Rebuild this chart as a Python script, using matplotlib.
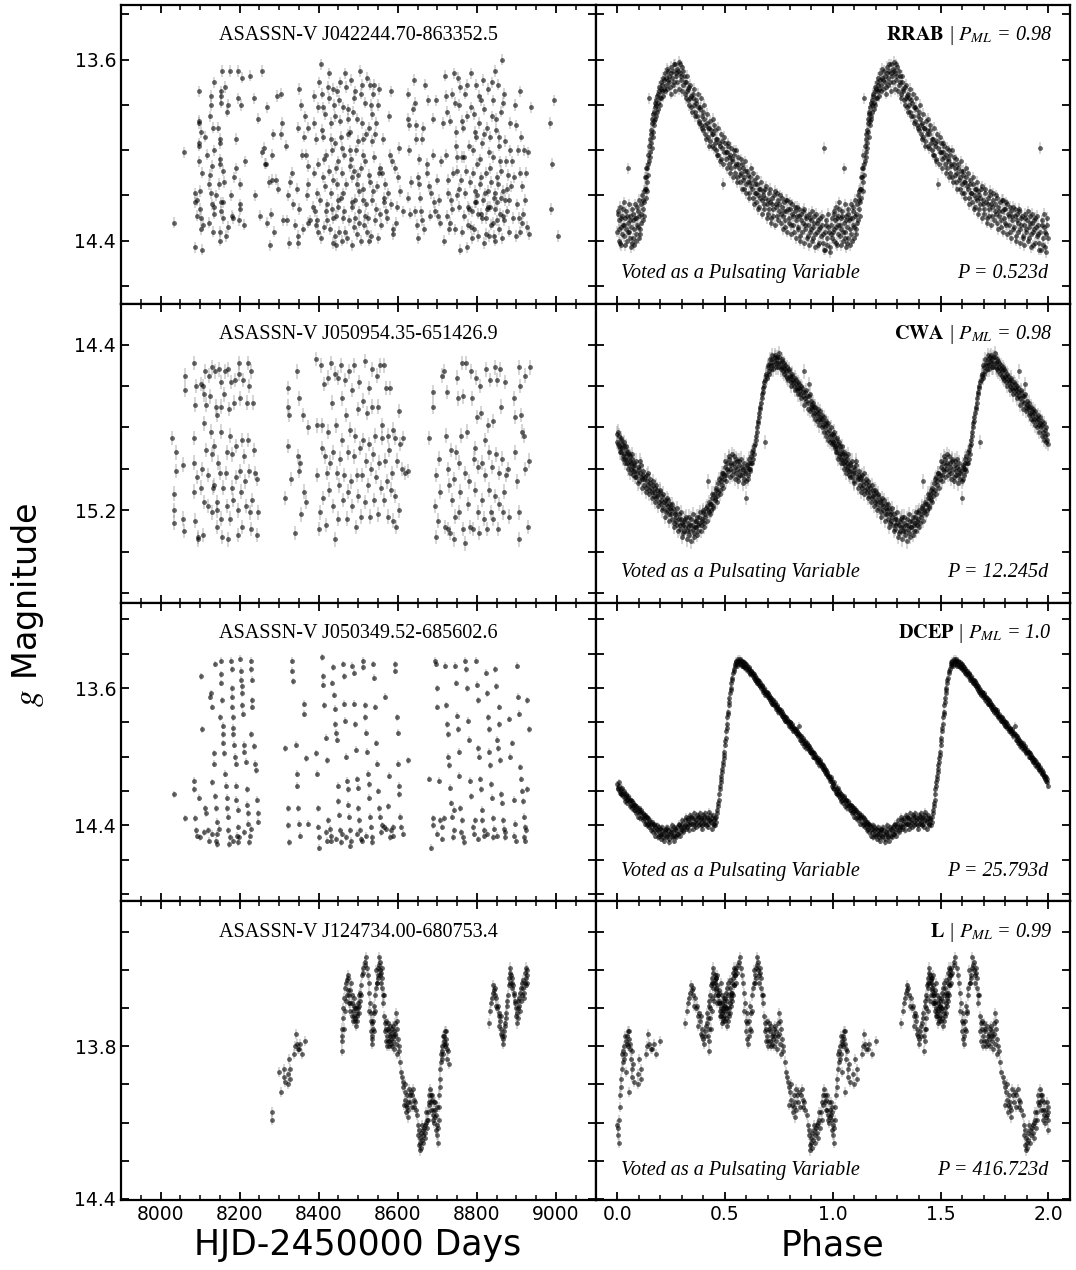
import numpy as np
import matplotlib
matplotlib.use("Agg")
import matplotlib.pyplot as plt
from matplotlib.ticker import MultipleLocator, FixedLocator, FixedFormatter

plt.rcParams['mathtext.fontset'] = 'stix'
plt.rcParams['font.family'] = ['DejaVu Sans']
SERIF = ['Liberation Serif', 'DejaVu Serif']

# ---------------- data ----------------
star_names = ["ASASSN-V J042244.70-863352.5", "ASASSN-V J050954.35-651426.9",
              "ASASSN-V J050349.52-685602.6", "ASASSN-V J124734.00-680753.4"]
star_classes = ["RRAB", "CWA", "DCEP", "L"]
star_pml = ["0.98", "0.98", "1.0", "0.99"]
star_periods = [0.523, 12.245, 25.793, 416.723]
star_mag_err = [0.025, 0.035, 0.02, 0.02]

# RRAB: light curve (HJD-2450000, g mag)
rrab_obs = [
(8035,14.32),(8059,14.01),(8097,13.74),(8097,13.87),(8097,13.88),(8096,13.97),(8096,13.98),(8096,14.05),
(8106,14.10),(8088,14.19),(8091,14.22),(8087,14.23),(8100,14.26),(8091,14.29),(8102,14.30),(8102,14.35),
(8087,14.43),(8105,14.44),(8113,13.94),(8128,13.76),(8128,13.80),(8136,13.70),(8133,13.90),(8136,14.00),
(8131,14.07),(8125,14.11),(8123,14.15),(8128,14.19),(8129,14.24),(8134,14.25),(8123,14.32),(8134,14.28),
(8156,13.65),(8154,13.74),(8153,13.76),(8153,13.79),(8171,13.80),(8167,13.83),(8150,13.95),(8150,13.97),
(8150,14.04),(8150,14.06),(8161,14.14),(8148,14.15),(8153,14.23),(8159,14.23),(8153,14.27),(8157,14.30),
(8151,14.36),(8151,14.40),(8171,14.34),(8179,14.20),(8180,14.29),(8184,14.30),(8175,13.65),(8195,13.65),
(8207,13.68),(8197,13.77),(8203,13.80),(8192,14.08),(8202,14.15),(8202,14.24),(8198,14.31),(8211,14.33),
(8227,13.67),(8237,13.77),(8257,13.65),(8247,13.86),(8257,14.01),(8266,14.06),(8265,14.06),(8274,14.14),
(8281,14.13),(8291,14.13),(8251,14.29),(8269,14.32),(8279,14.28),(8277,14.42),(8284,13.93),(8283,14.02),
(8294,13.76),(8304,13.75),(8308,13.88),(8304,13.93),(8310,14.31),(8321,14.31),(8325,14.41),(8322,14.20),
(8327,14.14),(8332,14.10),(8344,14.17),(8347,14.38),(8347,14.41),(8340,14.33),(8347,13.90),(8349,13.73),
(8351,14.26),(8357,14.02),(8367,14.02),(8364,13.94),(8374,13.90),(8365,13.85),(8372,14.07),(8372,14.32),
(8374,14.15),(8378,14.31),(8387,13.76),(8393,13.95),(8389,14.10),(8399,13.81),(8395,14.19),(8391,14.27),
(8395,14.31),(8398,14.36),(8406,13.62),(8409,13.75),(8412,13.81),(8412,13.94),(8414,14.04),(8416,14.16),
(8418,14.27),(8420,14.31),(8425,13.77),(8426,13.66),(8431,13.95),(8435,13.73),(8433,14.00),(8431,14.19),
(8437,14.30),(8437,14.41),(8441,13.85),(8443,14.08),(8446,14.15),(8448,14.22),(8443,14.42),(8450,14.25),
(8452,13.78),(8454,13.70),(8457,13.94),(8458,13.99),(8460,14.10),(8462,14.19),(8462,14.30),(8467,14.36),
(8468,13.72),(8473,13.82),(8475,13.86),(8479,13.92),(8479,14.00),(8482,14.04),(8485,14.12),(8485,14.25),
(8488,14.34),(8490,13.77),(8492,14.22),(8496,14.15),(8499,13.96),(8500,14.11),(8502,14.32),(8507,13.75),
(8509,13.71),(8510,13.88),(8513,14.02),(8513,14.22),(8517,14.29),(8519,13.93),(8522,14.36),(8526,14.11),
(8527,14.40),(8530,13.71),(8533,13.80),(8534,13.84),(8536,13.96),(8538,14.18),(8541,13.71),(8543,13.93),
(8544,14.26),(8551,13.80),(8553,14.10),(8555,14.28),(8560,14.10),(8564,14.21),(8566,14.23),(8570,14.27),
(8576,14.19),(8581,14.02),(8582,13.74),(8585,14.05),(8587,14.35),(8589,14.37),(8598,14.25),(8603,13.99),
(8601,14.12),(8612,14.27),(8625,13.75),(8627,13.86),(8629,13.89),(8629,14.00),(8627,14.21),(8634,14.14),
(8642,13.69),(8644,13.79),(8645,13.89),(8647,13.95),(8644,14.27),(8649,14.33),(8651,14.39),(8653,14.04),
(8654,14.15),(8657,14.21),(8659,14.27),(8661,14.31),(8665,13.90),(8669,13.71),(8673,14.06),(8675,14.10),
(8677,13.78),(8679,14.16),(8681,14.29),(8688,14.02),(8692,14.23),(8694,14.27),(8696,13.78),(8699,14.13),
(8705,14.22),(8708,14.32),(8715,13.88),(8719,13.67),(8721,13.76),(8722,14.02),(8724,14.29),(8726,14.19),
(8729,14.35),(8732,13.87),(8735,14.22),(8738,14.26),(8743,13.66),(8745,13.79),(8747,13.92),(8749,14.09),
(8750,14.03),(8752,13.68),(8754,13.80),(8754,14.17),(8756,14.25),(8758,14.44),(8763,13.87),(8763,14.03),
(8767,14.03),(8769,14.19),(8771,13.75),(8775,13.71),(8775,14.43),(8777,14.25),(8780,13.98),(8781,14.26),
(8784,14.34),(8786,13.81),(8788,14.39),(8790,14.10),(8792,13.84),(8794,14.18),(8796,14.23),(8799,13.71),
(8799,13.94),(8801,14.20),(8803,14.28),(8806,13.88),(8808,14.04),(8811,13.78),(8811,14.12),(8814,14.30),
(8816,13.69),(8818,13.93),(8820,14.19),(8823,14.37),(8825,13.90),(8826,14.26),(8829,14.25),(8831,14.01),
(8833,14.08),(8835,14.33),(8839,13.85),(8841,13.78),(8843,14.38),(8844,14.21),(8847,13.65),(8847,14.26),
(8849,13.91),(8851,14.12),(8852,14.31),(8854,13.71),(8857,13.98),(8858,14.05),(8860,14.21),(8862,13.83),
(8864,13.60),(8866,14.29),(8868,13.75),(8870,14.22),(8874,14.05),(8876,14.17),(8881,14.22),(8883,14.00),
(8887,14.16),(8889,14.05),(8896,13.80),(8900,13.89),(8902,14.24),(8904,14.00),(8906,14.30),(8908,13.74),
(8910,14.36),(8910,14.10),(8913,14.32),(8915,14.16),(8918,14.00),(8921,14.22),(8927,14.34),(8930,14.01),
(8936,13.81),(8985,13.88),(8987,14.26),(8989,14.06),(8995,13.78),(9006,14.38),
(8099,14.18),(8103,13.92),(8108,14.33),(8118,14.02),(8126,13.85),(8132,14.36),(8140,14.20),(8145,13.90),
(8158,14.09),(8163,13.72),(8166,14.38),(8186,14.12),(8190,13.95),(8200,14.26),(8214,14.05),(8240,14.20),
(8262,13.99),(8270,13.81),(8286,14.36),(8298,14.17),(8318,13.98),(8336,14.24),(8355,13.80),(8360,14.35),
(8370,14.20),(8385,14.25),(8388,13.88),(8392,14.33),(8397,14.06),(8401,13.70),(8403,14.22),(8405,14.39),
(8408,13.91),(8411,14.12),(8413,14.34),(8417,13.84),(8419,14.02),(8421,14.24),(8423,13.72),(8427,14.09),
(8429,14.35),(8432,13.88),(8434,14.26),(8436,14.13),(8439,13.80),(8440,14.38),(8442,13.97),(8444,14.29),
(8447,13.74),(8449,14.05),(8451,14.36),(8453,13.87),(8456,14.21),(8459,14.40),(8461,13.81),(8463,14.02),
(8465,14.27),(8466,13.66),(8469,14.15),(8471,14.39),(8474,13.93),(8476,14.31),(8478,14.07),(8481,13.69),
(8483,14.23),(8484,14.42),(8487,13.83),(8489,14.09),(8491,14.30),(8493,13.74),(8494,14.00),(8497,14.37),
(8498,13.86),(8501,14.18),(8503,14.27),(8505,13.65),(8506,14.08),(8508,14.40),(8511,13.95),(8512,14.17),
(8515,14.33),(8516,13.79),(8518,14.05),(8520,14.24),(8523,13.68),(8525,14.30),(8528,13.90),(8529,14.14),
(8531,14.38),(8535,14.22),(8537,13.75),(8540,14.03),(8542,14.31),(8545,13.88),(8547,14.16),(8549,14.39),
(8552,13.73),(8556,14.08),(8558,14.33),(8562,13.95),(8568,14.15),(8573,14.30),(8579,13.85),(8584,14.24),
(8592,14.08),(8596,14.32),(8606,14.18),(8632,14.28),(8638,13.82),(8650,14.12),(8660,13.95),(8667,14.35),
(8684,14.19),(8690,13.86),(8701,14.29),(8710,14.05),(8717,14.40),(8725,13.83),(8728,14.13),(8733,14.32),
(8736,13.75),(8740,14.10),(8744,14.35),(8748,13.98),(8751,14.20),(8757,13.72),(8760,14.13),(8762,14.36),
(8765,13.90),(8768,14.29),(8772,14.09),(8776,13.85),(8778,14.33),(8783,14.14),(8785,13.66),(8787,14.27),
(8789,14.00),(8793,14.35),(8795,13.92),(8798,14.23),(8800,14.06),(8802,14.38),(8805,13.76),(8807,14.15),
(8810,14.28),(8813,13.97),(8815,14.22),(8817,14.41),(8819,13.82),(8822,14.10),(8824,14.30),(8827,13.73),
(8828,14.18),(8830,14.38),(8832,13.94),(8834,14.25),(8836,14.14),(8838,13.70),(8840,14.32),(8842,14.03),
(8845,14.19),(8846,14.40),(8848,13.86),(8850,14.23),(8853,14.15),(8855,14.35),(8856,13.94),(8859,14.28),
(8861,14.09),(8863,14.39),(8865,13.79),(8867,14.18),(8869,14.31),(8872,13.96),(8875,14.27),(8878,14.11),
(8880,14.36),(8885,13.88),(8891,14.30),(8894,14.12),(8898,14.38),(8912,13.94),(8917,14.28),(8924,14.10),
(8933,14.37)]

# RRAB: phased light curve (phase, g mag), shown over two cycles
rrab_phased = [
(0.002,14.36),(0.005,14.28),(0.008,14.40),(0.011,14.31),(0.014,14.25),(0.017,14.34),(0.020,14.42),(0.023,14.29),
(0.026,14.33),(0.030,14.23),(0.033,14.38),(0.036,14.30),(0.040,14.35),(0.043,14.27),(0.046,14.40),(0.050,14.32),
(0.053,14.08),(0.056,14.36),(0.060,14.29),(0.063,14.43),(0.066,14.34),(0.070,14.26),(0.073,14.39),(0.076,14.31),
(0.080,14.42),(0.083,14.24),(0.086,14.37),(0.090,14.30),(0.093,14.33),(0.096,14.27),(0.100,14.39),(0.103,14.22),
(0.106,14.35),(0.110,14.28),(0.113,14.32),(0.116,14.20),(0.120,14.26),(0.123,14.18),(0.126,14.23),(0.130,14.12),
(0.133,14.17),(0.136,14.08),(0.139,14.14),(0.142,14.02),(0.145,14.06),(0.147,13.77),(0.150,13.98),(0.153,14.03),
(0.156,13.93),(0.159,13.97),(0.162,13.88),(0.165,13.92),(0.168,13.84),(0.171,13.89),(0.174,13.81),(0.177,13.86),
(0.180,13.78),(0.184,13.83),(0.188,13.75),(0.192,13.79),(0.196,13.72),(0.200,13.77),(0.204,13.70),(0.208,13.74),
(0.212,13.68),(0.216,13.73),(0.220,13.66),(0.225,13.71),(0.230,13.64),(0.235,13.69),(0.240,13.67),(0.245,13.72),
(0.250,13.63),(0.255,13.68),(0.260,13.65),(0.265,13.70),(0.270,13.62),(0.275,13.67),(0.280,13.64),(0.285,13.61),
(0.290,13.66),(0.295,13.69),(0.300,13.63),(0.305,13.71),(0.310,13.67),(0.315,13.75),(0.320,13.70),(0.325,13.74),
(0.330,13.78),(0.335,13.72),(0.340,13.77),(0.345,13.81),(0.350,13.75),(0.355,13.80),(0.360,13.83),(0.365,13.78),
(0.370,13.85),(0.375,13.81),(0.380,13.87),(0.385,13.82),(0.390,13.89),(0.395,13.85),(0.400,13.91),(0.405,13.86),
(0.410,13.93),(0.415,13.88),(0.420,13.94),(0.425,13.90),(0.430,13.96),(0.435,13.91),(0.440,13.98),(0.445,13.93),
(0.450,13.89),(0.455,13.97),(0.460,14.00),(0.465,13.95),(0.470,14.02),(0.475,13.98),(0.480,14.04),(0.485,13.96),
(0.490,14.15),(0.495,14.01),(0.500,13.97),(0.505,14.04),(0.510,14.01),(0.515,13.98),(0.520,14.06),(0.525,14.02),
(0.530,14.08),(0.535,14.04),(0.540,14.00),(0.545,14.10),(0.550,14.06),(0.555,14.12),(0.560,14.03),(0.565,14.08),
(0.570,14.14),(0.575,14.10),(0.580,14.06),(0.585,14.13),(0.590,14.17),(0.595,14.09),(0.600,14.15),(0.605,14.11),
(0.610,14.19),(0.615,14.14),(0.620,14.08),(0.625,14.17),(0.630,14.21),(0.635,14.13),(0.640,14.19),(0.645,14.23),
(0.650,14.15),(0.655,14.20),(0.660,14.25),(0.665,14.17),(0.670,14.22),(0.675,14.18),(0.680,14.26),(0.685,14.21),
(0.690,14.16),(0.695,14.24),(0.700,14.28),(0.705,14.19),(0.710,14.23),(0.715,14.30),(0.720,14.21),(0.725,14.26),
(0.730,14.18),(0.735,14.24),(0.740,14.29),(0.745,14.22),(0.750,14.27),(0.755,14.20),(0.760,14.32),(0.765,14.25),
(0.770,14.29),(0.775,14.23),(0.780,14.34),(0.785,14.27),(0.790,14.22),(0.795,14.30),(0.800,14.26),(0.805,14.33),
(0.810,14.24),(0.815,14.29),(0.820,14.36),(0.825,14.27),(0.830,14.31),(0.835,14.25),(0.840,14.34),(0.845,14.29),
(0.850,14.38),(0.855,14.28),(0.860,14.32),(0.865,14.26),(0.870,14.35),(0.875,14.30),(0.880,14.39),(0.885,14.33),
(0.890,14.28),(0.895,14.36),(0.900,14.31),(0.905,14.40),(0.910,14.34),(0.915,14.29),(0.920,14.37),(0.925,14.32),
(0.930,14.42),(0.935,14.35),(0.940,14.30),(0.945,14.38),(0.950,14.33),(0.955,14.41),(0.960,13.99),(0.963,14.36),
(0.966,14.44),(0.970,14.31),(0.975,14.39),(0.980,14.34),(0.985,14.43),(0.990,14.37),(0.995,14.30),
(0.004,14.27),(0.007,14.35),(0.013,14.41),(0.019,14.30),(0.024,14.37),(0.028,14.26),(0.034,14.33),(0.039,14.42),
(0.045,14.29),(0.049,14.36),(0.055,14.24),(0.058,14.39),(0.062,14.31),(0.068,14.41),(0.072,14.28),(0.078,14.35),
(0.082,14.30),(0.088,14.40),(0.092,14.25),(0.098,14.34),(0.102,14.29),(0.108,14.37),(0.112,14.24),(0.118,14.31),
(0.121,14.22),(0.125,14.29),(0.128,14.17),(0.132,14.21),(0.135,14.12),(0.138,14.18),(0.141,14.08),(0.144,14.11),
(0.149,14.05),(0.152,13.95),(0.155,14.01),(0.158,13.91),(0.161,13.99),(0.164,13.86),(0.167,13.94),(0.170,13.83),
(0.173,13.87),(0.176,13.79),(0.179,13.85),(0.182,13.80),(0.186,13.76),(0.190,13.82),(0.194,13.74),(0.198,13.80),
(0.202,13.73),(0.206,13.77),(0.210,13.71),(0.214,13.76),(0.218,13.69),(0.223,13.74),(0.228,13.68),(0.232,13.73),
(0.238,13.65),(0.243,13.70),(0.248,13.75),(0.252,13.66),(0.258,13.71),(0.262,13.62),(0.268,13.74),(0.272,13.66),
(0.278,13.70),(0.283,13.65),(0.288,13.73),(0.292,13.62),(0.298,13.67),(0.303,13.74),(0.308,13.65),(0.313,13.70),
(0.318,13.77),(0.323,13.67),(0.328,13.73),(0.333,13.80),(0.338,13.71),(0.343,13.76),(0.348,13.83),(0.353,13.77),
(0.358,13.73),(0.363,13.85),(0.368,13.79),(0.373,13.75),(0.378,13.88),(0.383,13.81),(0.388,13.77),(0.393,13.90),
(0.398,13.83),(0.403,13.80),(0.408,13.89),(0.413,13.95),(0.418,13.84),(0.423,13.90),(0.428,13.98),(0.433,13.87),
(0.438,13.93),(0.443,13.86),(0.448,13.99),(0.453,13.91),(0.458,13.95),(0.463,14.02),(0.468,13.90),(0.473,13.97),
(0.478,14.05),(0.483,13.93),(0.488,13.99),(0.493,14.06),(0.498,13.94),(0.503,14.01),(0.508,14.08),(0.513,13.97),
(0.518,14.03),(0.523,14.10),(0.528,13.99),(0.533,14.05),(0.538,14.12),(0.543,14.02),(0.548,14.07),(0.553,14.00),
(0.558,14.14),(0.563,14.06),(0.568,14.11),(0.573,14.04),(0.578,14.17),(0.583,14.08),(0.588,14.12),(0.593,14.05),
(0.598,14.19),(0.603,14.09),(0.608,14.14),(0.613,14.21),(0.618,14.12),(0.623,14.16),(0.628,14.10),(0.633,14.24),
(0.638,14.15),(0.643,14.19),(0.648,14.12),(0.653,14.26),(0.658,14.17),(0.663,14.21),(0.668,14.14),(0.673,14.28),
(0.678,14.20),(0.683,14.24),(0.688,14.17),(0.693,14.30),(0.698,14.22),(0.703,14.26),(0.708,14.17),(0.713,14.32),
(0.718,14.24),(0.723,14.29),(0.728,14.20),(0.733,14.33),(0.738,14.25),(0.743,14.19),(0.748,14.31),(0.753,14.24),
(0.758,14.28),(0.763,14.21),(0.768,14.35),(0.773,14.27),(0.778,14.31),(0.783,14.22),(0.788,14.36),(0.793,14.26),
(0.798,14.32),(0.803,14.23),(0.808,14.37),(0.813,14.28),(0.818,14.33),(0.823,14.25),(0.828,14.39),(0.833,14.29),
(0.838,14.35),(0.843,14.26),(0.848,14.40),(0.853,14.31),(0.858,14.36),(0.863,14.27),(0.868,14.41),(0.873,14.33),
(0.878,14.29),(0.883,14.38),(0.888,14.42),(0.893,14.30),(0.898,14.35),(0.903,14.27),(0.908,14.39),(0.913,14.32),
(0.918,14.43),(0.923,14.28),(0.928,14.36),(0.933,14.31),(0.938,14.41),(0.943,14.34),(0.948,14.29),(0.953,14.37),
(0.958,14.44),(0.968,14.33),(0.973,14.42),(0.978,14.28),(0.983,14.36),(0.988,14.45),(0.993,14.33),(0.998,14.39)]

# CWA: light curve
cwa_obs = [
(8028,14.85),(8035,15.12),(8035,15.20),(8035,15.26),(8038,14.92),(8038,15.01),(8057,14.98),(8057,15.24),
(8059,15.30),(8062,14.62),(8063,14.55),(8085,14.49),(8085,14.85),(8085,14.97),(8085,15.11),(8087,14.69),
(8087,15.25),(8089,14.60),(8091,15.04),(8094,15.33),(8095,15.34),(8102,14.59),(8102,15.09),(8105,15.00),
(8108,14.60),(8108,15.32),(8111,14.64),(8111,14.78),(8111,15.16),(8112,14.53),(8114,14.69),(8116,14.91),
(8119,15.03),(8119,15.18),(8123,14.55),(8125,14.65),(8127,14.82),(8129,14.93),(8129,15.21),(8131,14.51),
(8132,15.09),(8136,14.89),(8136,15.08),(8138,14.53),(8139,14.70),(8142,14.74),(8142,15.16),(8144,15.20),
(8144,15.28),(8146,14.97),(8149,14.52),(8150,15.02),(8153,14.58),(8153,14.82),(8154,14.70),(8154,15.24),
(8156,15.33),(8159,15.09),(8161,14.64),(8163,14.53),(8165,15.02),(8167,14.92),(8167,15.18),(8170,15.34),
(8171,14.52),(8173,14.71),(8176,14.84),(8176,15.24),(8178,14.58),(8180,15.09),(8181,14.93),(8184,15.15),
(8187,14.68),(8188,14.57),(8190,14.89),(8192,15.04),(8195,15.32),(8197,15.20),(8198,14.49),(8198,14.54),
(8201,14.66),(8201,15.01),(8203,15.11),(8205,14.86),(8207,15.28),(8209,14.57),(8212,14.94),(8214,15.06),
(8215,15.18),(8218,14.68),(8220,14.49),(8222,14.86),(8224,14.60),(8224,15.01),(8226,15.21),(8229,15.29),
(8230,14.53),(8232,15.15),(8235,14.68),(8237,14.91),(8239,15.02),(8243,15.05),(8246,15.21),(8243,15.32),
(8315,15.14),(8322,14.61),(8322,14.70),(8323,14.89),(8325,14.74),(8330,15.05),(8340,15.31),(8344,14.53),
(8347,14.94),(8349,15.01),(8350,14.66),(8353,14.97),(8354,15.22),(8361,14.74),(8364,15.11),(8367,15.16),
(8372,14.80),(8393,14.47),(8395,14.79),(8395,15.03),(8401,15.29),(8403,15.21),(8406,14.50),(8408,14.79),
(8409,14.90),(8412,15.14),(8414,14.59),(8416,14.94),(8418,15.27),(8420,15.02),(8423,14.56),(8424,14.82),
(8426,15.10),(8429,14.97),(8431,14.49),(8433,14.68),(8435,15.18),(8437,14.92),(8440,15.34),(8441,14.54),
(8443,14.79),(8446,15.02),(8448,15.24),(8450,14.56),(8451,15.08),(8454,14.95),(8457,14.50),(8458,14.66),
(8460,14.86),(8462,15.15),(8465,15.03),(8467,14.57),(8468,14.74),(8471,15.24),(8473,14.92),(8475,15.11),
(8477,14.53),(8479,14.81),(8482,15.06),(8484,15.18),(8485,14.62),(8488,14.94),(8490,14.50),(8492,14.84),
(8494,15.28),(8496,15.03),(8499,15.13),(8500,14.71),(8502,14.58),(8505,14.90),(8507,15.23),(8509,15.03),
(8511,14.67),(8513,14.86),(8516,14.48),(8517,15.16),(8519,14.96),(8522,14.73),(8524,15.08),(8526,14.61),
(8527,14.88),(8530,15.23),(8533,15.00),(8534,14.52),(8536,14.70),(8538,14.93),(8541,15.15),(8543,14.84),
(8544,15.04),(8547,14.55),(8549,15.22),(8551,14.70),(8553,14.97),(8555,14.50),(8558,15.09),(8560,14.85),
(8561,14.79),(8564,15.15),(8566,14.50),(8568,14.96),(8570,14.61),(8572,15.06),(8575,14.84),(8576,15.23),
(8578,14.91),(8581,14.61),(8583,15.10),(8585,15.02),(8587,15.25),(8589,14.81),(8592,15.13),(8593,14.85),
(8595,15.28),(8598,14.96),(8602,14.72),(8603,15.20),(8606,14.88),(8610,15.00),(8612,14.85),(8617,15.02),
(8625,15.01),
(8679,14.85),(8690,14.63),(8690,14.70),(8693,15.18),(8696,15.03),(8696,15.33),(8701,15.25),(8705,14.95),
(8707,15.11),(8711,14.55),(8716,14.53),(8720,15.28),(8722,14.84),(8724,14.63),(8727,15.00),(8728,15.29),
(8730,15.08),(8733,15.31),(8735,14.91),(8738,15.15),(8741,15.05),(8743,15.34),(8745,15.23),(8747,14.92),
(8749,14.56),(8752,14.66),(8754,14.97),(8755,15.21),(8758,15.11),(8760,14.84),(8762,14.49),(8764,14.65),
(8766,15.29),(8769,15.02),(8770,15.36),(8772,14.49),(8775,14.82),(8777,15.17),(8781,15.06),(8783,15.28),
(8786,14.53),(8787,14.66),(8789,15.29),(8792,14.95),(8794,15.10),(8796,14.90),(8797,14.56),(8800,14.75),
(8803,15.21),(8804,14.99),(8806,15.31),(8808,14.60),(8811,14.73),(8813,14.97),(8814,15.15),(8817,15.24),
(8820,14.86),(8821,15.03),(8823,14.52),(8825,15.29),(8828,14.79),(8830,15.10),(8831,14.92),(8834,14.57),
(8836,15.21),(8838,14.99),(8840,15.24),(8842,14.77),(8845,15.13),(8846,14.51),(8848,14.93),(8851,14.57),
(8853,15.29),(8855,15.02),(8857,15.17),(8859,14.52),(8862,14.70),(8863,14.95),(8865,15.21),(8868,15.11),
(8872,14.58),(8873,15.03),(8878,15.00),(8882,15.23),(8895,14.66),(8897,14.92),(8897,14.75),(8901,15.06),
(8906,15.21),(8906,15.34),(8907,14.51),(8910,14.60),(8912,14.74),(8914,14.82),(8918,14.84),(8921,14.55),
(8922,15.00),(8929,15.28),(8932,14.96),(8935,14.51)]

# CWA: phased light curve
cwa_phased = [
(0.000,14.83),(0.004,14.88),(0.008,14.84),(0.012,14.90),(0.016,14.86),(0.020,14.92),(0.024,14.88),(0.028,14.94),
(0.032,14.89),(0.036,14.95),(0.040,14.91),(0.044,14.93),(0.048,14.97),(0.052,14.92),(0.056,14.98),(0.060,14.94),
(0.064,15.00),(0.068,14.95),(0.072,14.99),(0.076,15.03),(0.080,14.97),(0.085,15.01),(0.090,15.04),(0.095,14.99),
(0.100,15.06),(0.105,15.02),(0.110,14.98),(0.115,15.05),(0.120,15.03),(0.125,15.08),(0.130,15.04),(0.135,15.09),
(0.140,15.06),(0.145,15.02),(0.150,15.10),(0.155,15.07),(0.160,15.11),(0.165,15.06),(0.170,15.13),(0.175,15.09),
(0.180,15.14),(0.185,15.10),(0.190,15.12),(0.195,15.16),(0.200,15.11),(0.205,15.17),(0.210,15.13),(0.215,15.19),
(0.220,15.15),(0.225,15.21),(0.230,15.14),(0.235,15.18),(0.240,15.22),(0.245,15.17),(0.250,15.20),(0.255,15.24),
(0.260,15.19),(0.265,15.26),(0.270,15.21),(0.275,15.23),(0.280,15.27),(0.285,15.22),(0.290,15.29),(0.295,15.24),
(0.300,15.26),(0.305,15.31),(0.310,15.25),(0.315,15.28),(0.320,15.23),(0.325,15.30),(0.330,15.26),(0.335,15.32),
(0.340,15.27),(0.345,15.24),(0.350,15.29),(0.355,15.31),(0.360,15.25),(0.365,15.28),(0.370,15.23),(0.375,15.30),
(0.380,15.26),(0.385,15.21),(0.390,15.27),(0.395,15.24),(0.400,15.20),(0.405,15.26),(0.410,15.22),(0.415,15.18),
(0.420,15.06),(0.425,15.21),(0.430,15.17),(0.435,15.20),(0.440,15.14),(0.445,15.18),(0.450,15.12),(0.455,15.15),
(0.460,15.09),(0.465,15.13),(0.470,15.07),(0.475,15.10),(0.480,15.04),(0.485,15.08),(0.490,15.02),(0.495,15.05),
(0.500,14.99),(0.505,15.03),(0.510,14.97),(0.515,15.01),(0.520,14.95),(0.525,15.00),(0.530,14.97),(0.535,15.03),
(0.540,14.94),(0.545,14.99),(0.550,15.02),(0.555,14.96),(0.560,15.04),(0.565,14.98),(0.570,15.01),(0.575,14.95),
(0.580,15.03),(0.585,15.00),(0.590,15.05),(0.595,15.01),(0.600,15.14),(0.603,14.98),(0.607,15.03),(0.611,14.97),
(0.615,15.00),(0.620,14.94),(0.625,14.97),(0.630,14.91),(0.635,14.93),(0.640,14.88),(0.645,14.84),(0.650,14.80),
(0.655,14.77),(0.660,14.73),(0.665,14.70),(0.670,14.66),(0.675,14.63),(0.680,14.60),(0.685,14.87),(0.688,14.57),
(0.692,14.54),(0.696,14.56),(0.700,14.51),(0.705,14.53),(0.710,14.49),(0.715,14.52),(0.720,14.47),(0.725,14.50),
(0.730,14.46),(0.735,14.49),(0.740,14.47),(0.745,14.51),(0.750,14.46),(0.755,14.49),(0.760,14.52),(0.765,14.48),
(0.770,14.51),(0.775,14.54),(0.780,14.50),(0.785,14.53),(0.790,14.56),(0.795,14.52),(0.800,14.55),(0.805,14.58),
(0.810,14.54),(0.815,14.57),(0.820,14.60),(0.825,14.56),(0.830,14.59),(0.835,14.62),(0.840,14.58),(0.845,14.61),
(0.850,14.64),(0.855,14.60),(0.860,14.63),(0.865,14.53),(0.870,14.66),(0.875,14.62),(0.880,14.65),(0.885,14.68),
(0.890,14.59),(0.893,14.64),(0.897,14.70),(0.900,14.67),(0.905,14.71),(0.910,14.68),(0.915,14.73),(0.920,14.70),
(0.925,14.74),(0.930,14.71),(0.935,14.76),(0.940,14.72),(0.945,14.77),(0.950,14.74),(0.955,14.79),(0.960,14.75),
(0.965,14.80),(0.970,14.77),(0.975,14.82),(0.980,14.78),(0.985,14.84),(0.990,14.80),(0.995,14.86),
(0.002,14.87),(0.006,14.82),(0.010,14.89),(0.014,14.92),(0.018,14.85),(0.022,14.90),(0.026,14.95),(0.030,14.87),
(0.034,14.93),(0.038,14.97),(0.042,14.89),(0.046,14.95),(0.050,15.00),(0.054,14.93),(0.058,14.96),(0.062,15.02),
(0.066,14.97),(0.070,14.93),(0.074,15.01),(0.078,14.98),(0.082,15.04),(0.087,14.96),(0.092,15.02),(0.097,15.07),
(0.102,15.00),(0.107,14.96),(0.112,15.04),(0.117,15.09),(0.122,15.01),(0.127,15.05),(0.132,15.11),(0.137,15.03),
(0.142,15.08),(0.147,15.12),(0.152,15.05),(0.157,15.09),(0.162,15.14),(0.167,15.08),(0.172,15.11),(0.177,15.16),
(0.182,15.08),(0.187,15.13),(0.192,15.18),(0.197,15.10),(0.202,15.15),(0.207,15.20),(0.212,15.12),(0.217,15.16),
(0.222,15.23),(0.227,15.17),(0.232,15.20),(0.237,15.15),(0.242,15.25),(0.247,15.19),(0.252,15.22),(0.257,15.17),
(0.262,15.28),(0.267,15.22),(0.272,15.25),(0.277,15.19),(0.282,15.30),(0.287,15.24),(0.292,15.27),(0.297,15.21),
(0.302,15.33),(0.307,15.27),(0.312,15.30),(0.317,15.24),(0.322,15.34),(0.327,15.28),(0.332,15.23),(0.337,15.30),
(0.342,15.35),(0.347,15.27),(0.352,15.22),(0.357,15.33),(0.362,15.28),(0.367,15.25),(0.372,15.32),(0.377,15.27),
(0.382,15.23),(0.387,15.30),(0.392,15.25),(0.397,15.21),(0.402,15.28),(0.407,15.23),(0.412,15.19),(0.417,15.25),
(0.422,15.20),(0.427,15.16),(0.432,15.22),(0.437,15.17),(0.442,15.12),(0.447,15.19),(0.452,15.14),(0.457,15.10),
(0.462,15.16),(0.467,15.11),(0.472,15.05),(0.477,15.12),(0.482,15.06),(0.487,15.02),(0.492,15.09),(0.497,15.03),
(0.502,14.96),(0.507,15.06),(0.512,15.00),(0.517,14.94),(0.522,15.04),(0.527,14.98),(0.532,14.93),(0.537,15.01),
(0.542,14.97),(0.547,15.05),(0.552,14.95),(0.557,15.00),(0.562,15.06),(0.567,14.96),(0.572,15.03),(0.577,14.99),
(0.582,15.07),(0.587,14.97),(0.592,15.02),(0.597,15.06),(0.602,14.99),(0.606,15.05),(0.610,15.00),(0.614,14.95),
(0.618,15.01),(0.622,14.97),(0.627,14.92),(0.632,14.95),(0.637,14.89),(0.642,14.86),(0.647,14.82),(0.652,14.78),
(0.657,14.75),(0.662,14.71),(0.667,14.68),(0.672,14.64),(0.677,14.61),(0.683,14.58),(0.690,14.55),(0.698,14.50),
(0.703,14.54),(0.708,14.47),(0.713,14.50),(0.718,14.45),(0.723,14.52),(0.728,14.48),(0.733,14.45),(0.738,14.51),
(0.743,14.46),(0.748,14.49),(0.753,14.44),(0.758,14.51),(0.763,14.47),(0.768,14.53),(0.773,14.49),(0.778,14.52),
(0.783,14.55),(0.788,14.51),(0.793,14.57),(0.798,14.53),(0.803,14.56),(0.808,14.60),(0.813,14.55),(0.818,14.58),
(0.823,14.62),(0.828,14.57),(0.833,14.61),(0.838,14.64),(0.843,14.59),(0.848,14.62),(0.853,14.66),(0.858,14.61),
(0.863,14.65),(0.868,14.69),(0.873,14.63),(0.878,14.67),(0.883,14.71),(0.888,14.65),(0.895,14.72),(0.902,14.69),
(0.908,14.74),(0.912,14.70),(0.918,14.76),(0.922,14.72),(0.928,14.77),(0.932,14.73),(0.938,14.79),(0.942,14.75),
(0.948,14.80),(0.952,14.76),(0.958,14.82),(0.962,14.78),(0.968,14.84),(0.972,14.79),(0.978,14.86),(0.982,14.81),
(0.988,14.87),(0.992,14.83),(0.997,14.88)]

# DCEP: light curve
dcep_obs = [
(8035,14.22),(8063,14.36),(8085,14.14),(8085,14.19),(8087,14.36),(8089,14.43),(8091,14.46),(8097,14.24),
(8102,13.53),(8105,13.84),(8112,14.30),(8114,14.33),(8121,14.43),(8122,14.49),(8125,13.65),(8127,13.63),
(8129,13.71),(8129,14.15),(8134,14.04),(8136,13.98),(8138,13.46),(8138,14.23),(8139,14.30),(8142,14.38),
(8143,14.45),(8144,14.51),(8150,13.77),(8153,13.44),(8153,13.52),(8154,13.57),(8156,13.67),(8159,13.82),
(8159,13.87),(8159,13.92),(8161,13.98),(8163,14.10),(8165,14.17),(8167,14.24),(8167,14.30),(8170,14.35),
(8171,14.43),(8173,14.51),(8178,13.44),(8180,13.49),(8180,13.60),(8180,13.65),(8181,13.71),(8184,13.77),
(8184,13.83),(8184,13.87),(8187,13.93),(8188,14.00),(8190,14.04),(8192,14.17),(8192,14.25),(8195,14.31),
(8197,14.41),(8198,14.47),(8201,13.43),(8203,13.50),(8203,13.55),(8205,13.63),(8205,13.59),(8207,13.70),
(8209,13.75),(8212,13.93),(8212,13.97),(8215,14.03),(8218,14.19),(8218,14.28),(8220,14.33),(8222,14.39),
(8224,14.50),(8229,13.44),(8230,13.49),(8232,13.55),(8232,13.67),(8232,13.71),(8230,13.87),(8237,13.94),
(8239,14.04),(8241,14.08),(8243,14.25),(8246,14.33),(8246,14.38),
(8100,14.47),(8110,14.44),(8131,14.45),(8140,14.49),(8148,14.42),(8175,14.47),(8182,14.49),(8194,14.46),
(8196,14.50),(8210,14.44),(8226,14.46),(8228,14.42),
(8316,13.95),(8322,14.30),(8323,14.40),(8325,14.50),(8333,13.44),(8333,13.50),(8336,13.56),(8342,13.93),
(8344,14.10),(8344,14.17),(8347,14.30),(8350,14.39),(8353,14.46),(8364,13.69),(8364,13.75),(8367,14.01),
(8374,14.39),(8394,13.98),(8395,14.10),(8397,14.30),(8399,14.41),(8401,14.53),(8409,13.42),(8412,13.53),
(8412,13.58),(8414,13.70),(8418,13.89),(8420,14.02),(8424,14.37),(8428,14.42),(8430,14.49),(8433,13.57),
(8437,13.48),(8438,13.64),(8440,13.72),(8441,13.81),(8443,13.86),(8446,13.90),(8448,14.17),(8450,14.26),
(8451,14.34),(8454,14.43),(8457,14.50),(8462,13.46),(8465,13.53),(8465,13.69),(8467,13.79),(8468,14.00),
(8471,14.14),(8473,14.19),(8475,14.28),(8477,14.35),(8479,14.43),(8482,14.49),(8485,13.47),(8488,13.51),
(8490,13.69),(8492,13.81),(8494,13.96),(8496,14.13),(8499,14.18),(8500,14.30),(8502,14.37),(8505,14.43),
(8507,14.48),(8511,13.44),(8513,13.48),(8516,13.70),(8517,13.77),(8519,13.86),(8522,13.97),(8524,14.10),
(8526,14.16),(8527,14.24),(8530,14.35),(8533,14.41),(8534,14.47),(8538,13.46),(8541,13.54),(8543,13.71),
(8544,13.92),(8547,14.04),(8551,14.20),(8553,14.30),(8555,14.35),(8560,14.40),(8564,14.41),(8568,13.65),
(8575,14.29),(8578,14.11),(8583,14.43),(8587,14.41),(8589,14.46),(8592,13.46),(8593,13.50),(8598,13.77),
(8600,13.86),(8600,14.04),(8602,14.17),(8603,14.22),(8606,14.35),(8608,14.41),(8612,14.45),(8625,14.02),
(8400,14.47),(8419,14.44),(8422,14.49),(8432,14.46),(8444,14.48),(8460,14.45),(8470,14.47),(8480,14.52),
(8497,14.45),(8510,14.49),(8520,14.46),(8535,14.50),(8557,14.44),(8570,14.42),(8580,14.47),
(8679,14.13),(8684,14.53),(8690,14.36),(8690,14.40),(8695,13.44),(8696,13.46),(8698,13.60),(8699,13.71),
(8705,14.14),(8707,14.37),(8711,14.41),(8716,14.36),(8720,13.47),(8722,13.70),(8724,13.81),(8727,13.87),
(8728,14.00),(8730,14.05),(8733,14.18),(8735,14.27),(8737,14.35),(8741,14.43),(8743,14.31),(8745,13.47),
(8747,13.57),(8749,13.76),(8752,13.84),(8754,13.97),(8755,14.11),(8758,14.30),(8762,14.37),(8766,14.47),
(8770,13.44),(8772,13.49),(8775,13.60),(8777,13.79),(8779,13.90),(8783,14.14),(8786,14.23),(8789,14.41),
(8794,14.37),(8797,13.44),(8800,13.58),(8803,13.67),(8804,13.95),(8806,14.00),(8808,14.13),(8811,14.19),
(8813,14.31),(8814,14.37),(8817,14.46),(8823,13.51),(8825,13.63),(8828,13.77),(8830,13.84),(8831,13.97),
(8834,14.05),(8836,14.16),(8838,14.24),(8840,14.36),(8842,14.47),(8846,13.49),(8848,13.59),(8851,13.90),
(8853,13.95),(8857,13.71),(8857,13.81),(8859,14.02),(8862,14.22),(8863,14.27),(8865,14.37),(8868,14.42),
(8872,14.47),(8880,13.78),(8884,14.00),(8889,13.92),(8893,14.25),(8897,14.39),(8899,14.49),(8901,13.47),
(8904,13.65),(8906,13.75),(8910,14.06),(8912,14.13),(8914,14.20),(8916,14.26),(8918,14.35),(8921,14.41),
(8922,14.49),(8927,13.67),(8927,14.19),(8932,13.84),
(8700,14.45),(8713,14.48),(8739,14.47),(8760,14.44),(8768,14.50),(8792,14.45),(8802,14.48),(8819,14.43),
(8826,14.45),(8844,14.42),(8850,14.46),(8870,14.44),(8895,14.46),(8920,14.47),(8924,14.43)]

# DCEP: phased light curve
dcep_phased = [
(0.000,14.16),(0.005,14.19),(0.010,14.17),(0.015,14.21),(0.020,14.19),(0.025,14.22),(0.030,14.20),(0.035,14.24),
(0.040,14.22),(0.045,14.25),(0.050,14.23),(0.055,14.26),(0.060,14.25),(0.065,14.28),(0.070,14.26),(0.075,14.29),
(0.080,14.28),(0.085,14.31),(0.090,14.29),(0.095,14.32),(0.100,14.30),(0.105,14.33),(0.110,14.31),(0.115,14.35),
(0.120,14.33),(0.125,14.36),(0.130,14.34),(0.135,14.38),(0.140,14.35),(0.145,14.39),(0.150,14.37),(0.155,14.40),
(0.160,14.38),(0.165,14.42),(0.170,14.39),(0.175,14.41),(0.180,14.44),(0.185,14.40),(0.190,14.43),(0.195,14.46),
(0.200,14.42),(0.205,14.45),(0.210,14.43),(0.215,14.47),(0.220,14.44),(0.225,14.42),(0.230,14.46),(0.235,14.43),
(0.240,14.48),(0.245,14.45),(0.250,14.42),(0.255,14.47),(0.260,14.44),(0.265,14.41),(0.270,14.46),(0.275,14.43),
(0.280,14.45),(0.285,14.40),(0.290,14.44),(0.295,14.42),(0.300,14.39),(0.305,14.43),(0.310,14.41),(0.315,14.37),
(0.320,14.42),(0.325,14.39),(0.330,14.36),(0.335,14.40),(0.340,14.38),(0.345,14.35),(0.350,14.39),(0.355,14.36),
(0.360,14.40),(0.365,14.37),(0.370,14.34),(0.375,14.38),(0.380,14.35),(0.385,14.39),(0.390,14.36),(0.395,14.40),
(0.400,14.37),(0.405,14.35),(0.410,14.38),(0.415,14.36),(0.420,14.39),(0.425,14.37),(0.430,14.34),(0.435,14.38),
(0.440,14.36),(0.445,14.39),(0.450,14.37),(0.455,14.40),(0.460,14.35),(0.465,14.31),(0.470,14.27),(0.474,14.22),
(0.478,14.17),(0.482,14.13),(0.486,14.09),(0.490,14.05),(0.494,14.01),(0.497,13.97),(0.500,13.93),(0.503,13.89),
(0.506,13.85),(0.509,13.81),(0.512,13.77),(0.515,13.74),(0.518,13.70),(0.521,13.66),(0.524,13.63),(0.527,13.60),
(0.530,13.57),(0.534,13.54),(0.538,13.51),(0.542,13.49),(0.546,13.47),(0.550,13.45),(0.555,13.46),(0.560,13.44),
(0.565,13.45),(0.570,13.43),(0.575,13.46),(0.580,13.44),(0.585,13.47),(0.590,13.45),(0.595,13.48),(0.600,13.46),
(0.605,13.49),(0.610,13.48),(0.615,13.51),(0.620,13.50),(0.625,13.52),(0.630,13.51),(0.635,13.54),(0.640,13.53),
(0.645,13.56),(0.650,13.55),(0.655,13.57),(0.660,13.56),(0.665,13.59),(0.670,13.58),(0.675,13.61),(0.680,13.60),
(0.685,13.63),(0.690,13.62),(0.695,13.64),(0.700,13.63),(0.705,13.66),(0.710,13.65),(0.715,13.68),(0.720,13.67),
(0.725,13.69),(0.730,13.68),(0.735,13.71),(0.740,13.70),(0.745,13.73),(0.750,13.72),(0.755,13.74),(0.760,13.73),
(0.765,13.76),(0.770,13.75),(0.775,13.78),(0.780,13.77),(0.785,13.79),(0.790,13.78),(0.795,13.81),(0.800,13.80),
(0.805,13.82),(0.810,13.81),(0.815,13.84),(0.820,13.83),(0.825,13.85),(0.830,13.84),(0.835,13.87),(0.840,13.86),
(0.845,13.82),(0.850,13.88),(0.855,13.90),(0.860,13.89),(0.865,13.92),(0.870,13.91),(0.875,13.93),(0.880,13.92),
(0.885,13.95),(0.890,13.94),(0.895,13.97),(0.900,13.96),(0.905,13.98),(0.910,13.97),(0.915,14.00),(0.920,13.99),
(0.925,14.02),(0.930,14.01),(0.935,14.03),(0.940,14.02),(0.945,14.05),(0.950,14.04),(0.955,14.07),(0.960,14.06),
(0.965,14.09),(0.970,14.08),(0.975,14.10),(0.980,14.11),(0.985,14.13),(0.990,14.12),(0.995,14.15),
(0.003,14.18),(0.008,14.15),(0.013,14.20),(0.018,14.22),(0.023,14.18),(0.028,14.23),(0.033,14.21),(0.038,14.26),
(0.043,14.23),(0.048,14.27),(0.053,14.24),(0.058,14.29),(0.063,14.25),(0.068,14.30),(0.073,14.27),(0.078,14.31),
(0.083,14.28),(0.088,14.33),(0.093,14.30),(0.098,14.35),(0.103,14.31),(0.108,14.36),(0.113,14.32),(0.118,14.37),
(0.123,14.34),(0.128,14.39),(0.133,14.35),(0.138,14.40),(0.143,14.36),(0.148,14.41),(0.153,14.38),(0.158,14.43),
(0.163,14.39),(0.168,14.44),(0.173,14.40),(0.178,14.46),(0.183,14.42),(0.188,14.47),(0.193,14.41),(0.198,14.45),
(0.203,14.48),(0.208,14.41),(0.213,14.45),(0.218,14.49),(0.223,14.43),(0.228,14.47),(0.233,14.41),(0.238,14.45),
(0.243,14.50),(0.248,14.44),(0.253,14.40),(0.258,14.46),(0.263,14.49),(0.268,14.42),(0.273,14.47),(0.278,14.41),
(0.283,14.45),(0.288,14.39),(0.293,14.46),(0.298,14.41),(0.303,14.37),(0.308,14.44),(0.313,14.40),(0.318,14.35),
(0.323,14.41),(0.328,14.37),(0.333,14.43),(0.338,14.34),(0.343,14.39),(0.348,14.36),(0.353,14.42),(0.358,14.33),
(0.363,14.38),(0.368,14.41),(0.373,14.35),(0.378,14.40),(0.383,14.33),(0.388,14.37),(0.393,14.42),(0.398,14.34),
(0.403,14.39),(0.408,14.33),(0.413,14.40),(0.418,14.35),(0.423,14.41),(0.428,14.32),(0.433,14.37),(0.438,14.42),
(0.443,14.34),(0.448,14.40),(0.453,14.36),(0.458,14.38),(0.463,14.33),(0.468,14.29),(0.472,14.25),(0.476,14.19),
(0.480,14.15),(0.484,14.11),(0.488,14.07),(0.492,14.03),(0.496,13.99),(0.502,13.91),(0.508,13.83),(0.514,13.75),
(0.520,13.68),(0.526,13.61),(0.532,13.55),(0.540,13.50),(0.548,13.46),(0.553,13.44),(0.558,13.47),(0.563,13.43),
(0.568,13.46),(0.573,13.44),(0.578,13.47),(0.583,13.45),(0.588,13.48),(0.593,13.46),(0.598,13.49),(0.603,13.47),
(0.608,13.50),(0.613,13.49),(0.618,13.52),(0.623,13.50),(0.628,13.53),(0.633,13.52),(0.638,13.55),(0.643,13.54),
(0.648,13.57),(0.653,13.55),(0.658,13.58),(0.663,13.57),(0.668,13.60),(0.673,13.59),(0.678,13.62),(0.683,13.61),
(0.688,13.64),(0.693,13.62),(0.698,13.65),(0.703,13.64),(0.708,13.67),(0.713,13.66),(0.718,13.69),(0.723,13.67),
(0.728,13.70),(0.733,13.69),(0.738,13.72),(0.743,13.71),(0.748,13.74),(0.753,13.72),(0.758,13.75),(0.763,13.74),
(0.768,13.77),(0.773,13.76),(0.778,13.79),(0.783,13.77),(0.788,13.80),(0.793,13.79),(0.798,13.82),(0.803,13.80),
(0.808,13.83),(0.813,13.82),(0.818,13.85),(0.823,13.84),(0.828,13.86),(0.833,13.85),(0.838,13.88),(0.843,13.87),
(0.848,13.90),(0.853,13.88),(0.858,13.92),(0.863,13.90),(0.868,13.94),(0.873,13.92),(0.878,13.95),(0.883,13.93),
(0.888,13.96),(0.893,13.95),(0.898,13.98),(0.903,13.97),(0.908,14.00),(0.913,13.98),(0.918,14.01),(0.923,14.00),
(0.928,14.03),(0.933,14.02),(0.938,14.05),(0.943,14.03),(0.948,14.06),(0.953,14.05),(0.958,14.08),(0.963,14.07),
(0.968,14.10),(0.973,14.09),(0.978,14.12),(0.983,14.11),(0.988,14.14),(0.993,14.13),(0.998,14.17)]

# L: light curve (folded with its period for the phase panel)
l_obs = [
(8281,14.06),(8281,14.09),(8300,13.90),(8305,13.98),(8311,13.89),(8311,13.92),(8315,13.94),(8322,13.91),
(8323,13.95),(8325,13.85),(8328,13.93),(8328,13.89),(8338,13.83),(8340,13.80),(8344,13.79),(8347,13.81),
(8350,13.81),(8353,13.79),(8357,13.83),(8365,13.78),(8342,13.75),
(8458,13.76),(8460,13.73),(8462,13.69),(8462,13.65),(8465,13.61),(8467,13.57),(8468,13.55),(8471,13.54),
(8473,13.53),(8475,13.52),(8477,13.60),(8479,13.58),(8482,13.55),(8484,13.60),(8485,13.63),(8488,13.61),
(8490,13.64),(8492,13.65),(8494,13.65),(8496,13.67),(8499,13.65),(8500,13.63),(8502,13.60),(8505,13.59),
(8507,13.56),(8509,13.52),(8511,13.49),(8513,13.51),(8516,13.48),(8517,13.47),(8519,13.45),(8522,13.49),
(8524,13.52),(8526,13.55),(8527,13.59),(8530,13.63),(8533,13.67),(8534,13.71),(8536,13.76),(8538,13.73),
(8534,13.77),(8541,13.67),(8543,13.60),(8544,13.57),(8547,13.55),(8549,13.52),(8551,13.49),(8553,13.48),
(8555,13.47),(8558,13.51),(8560,13.53),(8561,13.57),(8564,13.60),(8566,13.68),(8568,13.71),(8570,13.73),
(8572,13.76),(8575,13.71),(8576,13.73),(8578,13.78),(8581,13.76),(8583,13.75),(8585,13.73),(8587,13.76),
(8589,13.78),(8592,13.76),(8593,13.71),(8595,13.67),(8598,13.73),(8600,13.77),(8602,13.80),(8603,13.82),
(8606,13.86),(8608,13.90),(8610,13.92),(8612,13.94),(8614,13.96),(8617,13.98),(8619,14.01),(8620,14.03),
(8623,13.99),(8625,14.02),(8627,14.05),(8630,13.99),(8634,13.98),(8637,13.99),(8641,14.01),(8644,14.02),
(8646,14.05),(8649,14.07),(8651,14.11),(8652,14.15),(8654,14.19),(8657,14.18),(8659,14.14),(8663,14.13),
(8665,14.15),(8668,14.14),(8669,14.11),(8671,14.10),(8673,14.09),(8676,14.06),(8678,14.02),(8679,13.99),
(8682,13.97),(8684,13.99),(8686,14.01),(8688,14.05),(8690,14.07),(8693,14.05),(8695,14.02),(8696,14.07),
(8699,14.11),(8700,14.15),(8703,14.09),(8705,13.99),(8706,13.96),(8708,13.89),(8710,13.86),(8711,13.82),
(8713,13.80),(8716,13.78),(8718,13.76),(8720,13.74),(8721,13.77),(8724,13.81),(8727,13.82),(8730,13.87),
(8478,13.63),(8480,13.66),(8483,13.68),(8486,13.66),(8487,13.70),(8489,13.68),(8491,13.70),(8493,13.69),
(8495,13.72),(8497,13.70),(8498,13.68),(8501,13.67),(8503,13.64),(8504,13.62),(8506,13.60),(8470,13.62),
(8472,13.60),(8474,13.58),(8476,13.63),(8466,13.66),(8463,13.73),(8460,13.78),(8459,13.82),
(8546,13.50),(8548,13.55),(8550,13.53),(8552,13.45),(8554,13.50),(8556,13.52),(8557,13.55),(8559,13.49),
(8562,13.60),(8563,13.63),(8528,13.66),(8531,13.70),(8532,13.74),(8535,13.79),(8537,13.70),(8539,13.64),
(8540,13.74),(8542,13.66),(8567,13.74),(8569,13.78),(8571,13.70),(8573,13.80),(8574,13.78),(8577,13.74),
(8579,13.80),(8580,13.72),(8582,13.79),(8584,13.77),(8586,13.80),(8588,13.72),(8590,13.74),(8591,13.81),
(8594,13.75),(8596,13.79),(8597,13.70),(8599,13.83),(8615,14.03),(8618,13.95),(8621,14.06),(8624,14.04),
(8626,14.08),(8628,13.97),(8632,14.02),(8636,14.04),(8639,13.97),(8642,14.04),(8653,14.13),(8655,14.21),
(8656,14.16),(8658,14.20),(8660,14.17),(8662,14.11),(8664,14.18),(8667,14.12),(8670,14.16),(8672,14.06),
(8674,14.12),(8677,14.09),(8680,14.03),(8683,14.02),(8685,14.05),(8687,13.99),(8689,14.09),(8691,14.02),
(8692,14.10),(8694,14.08),(8697,14.13),(8698,14.04),(8701,14.12),(8702,14.18),(8704,14.04),(8707,13.93),
(8709,13.83),(8712,13.85),(8714,13.76),(8715,13.83),(8717,13.79),(8719,13.80),(8722,13.74),(8723,13.79),
(8725,13.85),
(8830,13.71),(8834,13.66),(8836,13.63),(8840,13.59),(8842,13.56),(8845,13.57),(8846,13.60),(8848,13.64),
(8851,13.65),(8853,13.64),(8855,13.68),(8857,13.67),(8859,13.70),(8862,13.73),(8863,13.76),(8865,13.77),
(8868,13.74),(8870,13.72),(8872,13.71),(8873,13.67),(8876,13.64),(8879,13.60),(8880,13.56),(8882,13.53),
(8884,13.51),(8887,13.52),(8889,13.53),(8890,13.57),(8893,13.60),(8895,13.59),(8897,13.63),(8899,13.65),
(8901,13.67),(8904,13.69),(8906,13.64),(8907,13.61),(8910,13.59),(8912,13.57),(8914,13.55),(8916,13.57),
(8918,13.59),(8921,13.55),(8922,13.51),(8924,13.49),(8927,13.52),
(8838,13.61),(8843,13.58),(8849,13.61),(8856,13.72),(8860,13.68),(8861,13.75),(8866,13.79),(8869,13.76),
(8874,13.69),(8877,13.62),(8883,13.55),(8885,13.49),(8888,13.55),(8892,13.56),(8896,13.62),(8898,13.68),
(8902,13.71),(8903,13.65),(8905,13.62),(8908,13.66),(8911,13.62),(8913,13.60),(8917,13.54),(8919,13.61),
(8923,13.53),(8925,13.56),(8926,13.50),(8928,13.55)]
l_epoch = 8282.0

# ---------------- figure ----------------
row_ylim = [(14.679, 13.358), (15.645, 14.203), (14.843, 13.101), (14.405, 13.229)]
row_yticks = [[13.4, 13.6, 13.8, 14.0, 14.2, 14.4, 14.6],
              [14.4, 14.6, 14.8, 15.0, 15.2, 15.4, 15.6],
              [13.2, 13.4, 13.6, 13.8, 14.0, 14.2, 14.4, 14.6, 14.8],
              [13.35, 13.5, 13.65, 13.8, 13.95, 14.1, 14.25, 14.4]]
row_ylabels = [[13.6, 14.4], [14.4, 15.2], [13.6, 14.4], [13.8, 14.4]]

def arr(pairs):
    a = np.array(pairs, dtype=float)
    return a[:, 0], a[:, 1]

obs = [arr(rrab_obs), arr(cwa_obs), arr(dcep_obs), arr(l_obs)]
lt, lm = obs[3]
phased = [arr(rrab_phased), arr(cwa_phased), arr(dcep_phased),
          (((lt - l_epoch) / star_periods[3]) % 1.0, lm)]

fig, axes = plt.subplots(4, 2, figsize=(10.76, 12.70), dpi=100, sharex='col')
fig.subplots_adjust(left=121/1076, right=1070/1076, top=1-5/1270,
                    bottom=1-1200/1270, wspace=0, hspace=0)

def draw(ax, x, y, err):
    ax.errorbar(x, y, yerr=err, fmt='none', ecolor='0.5', elinewidth=1.3,
                alpha=0.35, zorder=1)
    ax.plot(x, y, 'o', ms=3.5, mfc='k', mec='none', alpha=0.6, zorder=2)

for i in range(4):
    axl, axr = axes[i]
    t, m = obs[i]
    ph, pm = phased[i]
    err = star_mag_err[i]
    draw(axl, t, m, err)
    draw(axr, np.concatenate([ph, ph + 1]), np.concatenate([pm, pm]), err)

    for ax in (axl, axr):
        ax.set_ylim(*row_ylim[i])
        ticks = row_yticks[i]
        labs = [("%.1f" % v) if any(abs(v - w) < 1e-6 for w in row_ylabels[i]) else ""
                for v in ticks]
        ax.yaxis.set_major_locator(FixedLocator(ticks))
        ax.yaxis.set_major_formatter(FixedFormatter(labs))
        ax.tick_params(axis='both', which='both', direction='in', top=True, right=True,
                       labelsize=13.5)
        ax.tick_params(which='major', length=6, width=1.3)
        ax.tick_params(which='minor', length=3.5, width=1.1)
        for s in ax.spines.values():
            s.set_linewidth(1.6)
    axr.tick_params(axis='y', labelleft=False)

    axl.text(0.5, 0.897, star_names[i], transform=axl.transAxes, ha='center',
             va='center', fontsize=14.5, family=SERIF)
    axr.text(0.962, 0.897, r"$\mathbf{%s}$ | $P_{ML}$ = %s" % (star_classes[i], star_pml[i]),
             transform=axr.transAxes, ha='right', va='center', fontsize=14.5,
             family=SERIF, style='italic')
    axr.text(0.053, 0.10, "Voted as a Pulsating Variable", transform=axr.transAxes,
             ha='left', va='center', fontsize=14.5, family=SERIF, style='italic')
    axr.text(0.955, 0.10, "P = %sd" % format(star_periods[i], '.3f'), transform=axr.transAxes,
             ha='right', va='center', fontsize=14.5, family=SERIF, style='italic')

axes[0, 0].set_xlim(7900, 9100)
axes[0, 0].xaxis.set_major_locator(MultipleLocator(200))
axes[0, 0].xaxis.set_minor_locator(MultipleLocator(50))
axes[0, 1].set_xlim(-0.1, 2.1)
axes[0, 1].xaxis.set_major_locator(MultipleLocator(0.5))
axes[0, 1].xaxis.set_minor_locator(MultipleLocator(0.1))

fig.text(358/1076, 1 - 1245/1270, "HJD-2450000 Days", ha='center', va='center', fontsize=25)
fig.text(832/1076, 1 - 1245/1270, "Phase", ha='center', va='center', fontsize=25)
fig.text(28/1076, 1 - 605/1270, "$g$ Magnitude", ha='center', va='center',
         rotation=90, fontsize=24)

fig.savefig("out.png", dpi=100)
